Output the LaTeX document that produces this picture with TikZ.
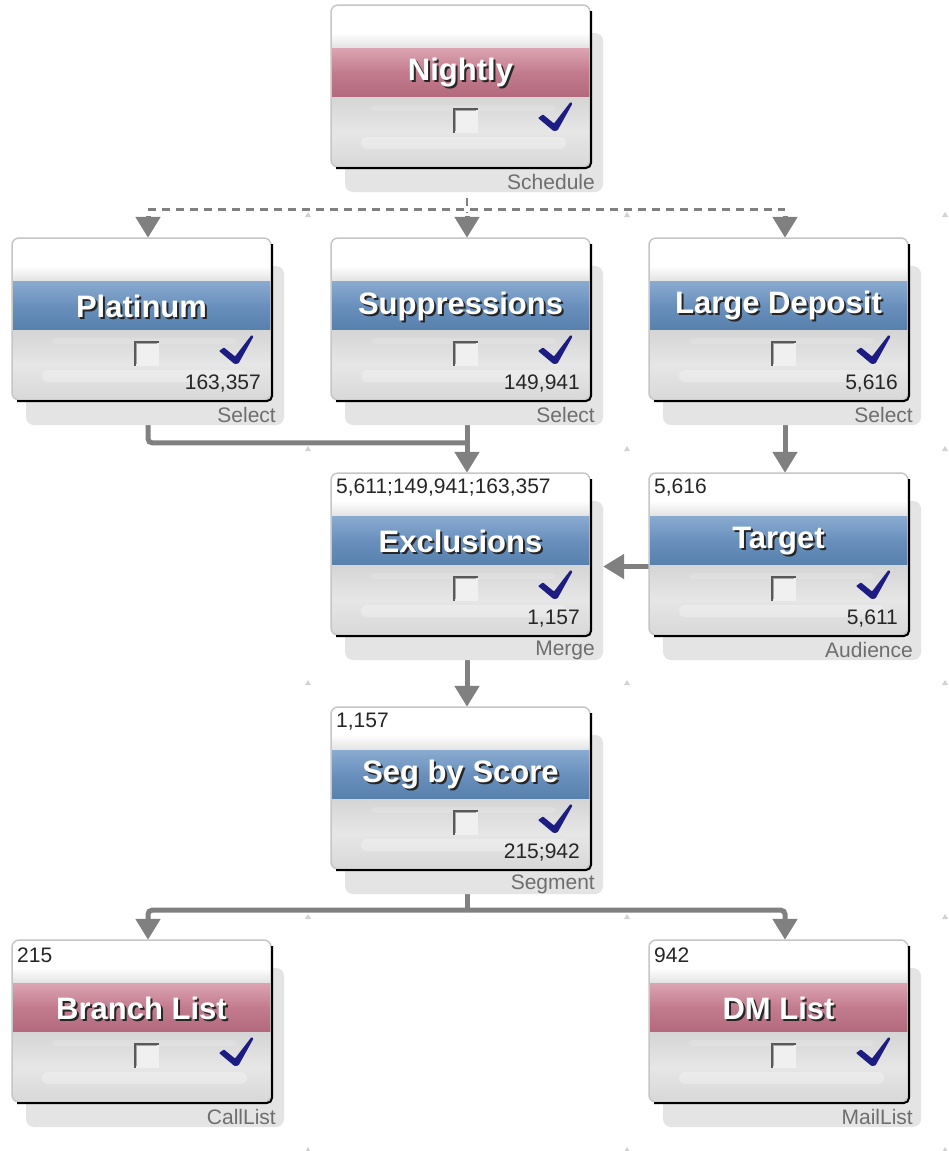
\documentclass[tikz,border=0pt]{standalone}
\usepackage{fontspec}
\setmainfont{Liberation Sans}
\usetikzlibrary{arrows.meta,calc}
\definecolor{conngray}{HTML}{808080}
\definecolor{plategray}{HTML}{E4E4E4}
\definecolor{framegray}{HTML}{C6C6C6}
\definecolor{labelgray}{HTML}{6E6E6E}
\definecolor{gridgray}{HTML}{D2D2D2}
\definecolor{topgray}{HTML}{E2E2E2}
\definecolor{lowA}{HTML}{D5D5D5}
\definecolor{lowB}{HTML}{E6E6E6}
\definecolor{lowC}{HTML}{D8D8D8}
\definecolor{blueA}{HTML}{8AABD0}
\definecolor{blueB}{HTML}{6990BD}
\definecolor{blueC}{HTML}{5880AD}
\definecolor{pinkA}{HTML}{DCA4B2}
\definecolor{pinkB}{HTML}{C27B8E}
\definecolor{pinkC}{HTML}{B3697D}
\definecolor{checknavy}{HTML}{1C1C82}
\pgfdeclarelayer{bg}
\pgfsetlayers{bg,main}
\tikzset{
  plate/.style={fill=plategray, rounded corners=8},
  cardframe/.style={draw=framegray, line width=1.5, rounded corners=7},
  conn/.style={draw=conngray, line width=5, -{Triangle[width=24pt,length=21pt]}},
  connplain/.style={draw=conngray, line width=5, rounded corners=4},
  dashconn/.style={draw=conngray, line width=2.8, dash pattern=on 8pt off 6pt},
  titletext/.style={font=\bfseries\fontsize{31}{31}\selectfont, text=white, inner sep=0},
  titleshadow/.style={font=\bfseries\fontsize{31}{31}\selectfont, text=black!85, inner sep=0},
  cnt/.style={font=\fontsize{21}{21}\selectfont, text=black!85, inner sep=0},
  kind/.style={font=\fontsize{21}{21}\selectfont, text=labelgray, inner sep=0, anchor=east},
  cardnode/.style={minimum width=272pt, minimum height=187pt, inner sep=0, draw=none},
  gridmark/.style={fill=gridgray},
}
% #1 name, #2 x, #3 y, #4 title, #5 band colour prefix, #6 top count, #7 bottom count, #8 kind
\newcommand{\flowcard}[8]{%
\begin{scope}[shift={(#2,#3)}]
  \fill[plate] (14,28) rectangle (272,187);
  \begin{scope}
    \clip[rounded corners=7] (0,0) rectangle (259,162);
    \fill[white] (0,0) rectangle (259,30);
    \shade[top color=white, bottom color=topgray] (0,28) rectangle (259,43);
    \shade[top color=#5A, bottom color=#5C, middle color=#5B] (0,43) rectangle (259,92);
    \shade[top color=lowA, bottom color=lowC, middle color=lowB] (0,92) rectangle (259,162);
    \fill[white, opacity=0.28, rounded corners=6] (30,132) rectangle (235,144);
    \fill[white, opacity=0.15, rounded corners=4] (40,100) rectangle (225,106);
  \end{scope}
  \draw[cardframe] (0,0) rectangle (259,162);
  \draw[black, line width=2, rounded corners=5] (260,6) -- (260,163) -- (5,163);
  % checkbox
  \fill[white!94!black] (121.5,102.5) rectangle (146.5,127.5);
  \draw[black!65, line width=2] (122.5,127.5) -- (122.5,103.5) -- (146.5,103.5);
  \draw[black!35, line width=1] (124.5,126) -- (124.5,105.5) -- (145,105.5);
  % check mark
  \fill[checknavy, rounded corners=0.8] (207,113) -- (212,109.5) -- (223,118.5) -- (239.5,97) -- (241.5,98.5) -- (226.5,125.5) -- (222.5,126) -- cycle;
  % texts
  \node[titleshadow] at (131.5,70) {#4};
  \node[titletext] at (129.5,68) {#4};
  \node[cnt, anchor=west] at (5,15) {#6};
  \node[cnt, anchor=east] at (249,146) {#7};
  \node[kind] at (264,177) {#8};
\end{scope}
\node[cardnode] (#1) at (#2+136,#3+93.5) {};
}
\begin{document}
\begin{tikzpicture}[x=1pt, y=-1pt]
\useasboundingbox (0,0) rectangle (948,1151);
\begin{pgfonlayer}{bg}
  \fill[white] (0,0) rectangle (948,1151);
  \foreach \gx in {308,627,945} {
    \foreach \gy in {215,449,683,917,1150} {
      \fill[gridmark] (\gx-3,\gy+2) -- (\gx,\gy-3) -- (\gx+3,\gy+2) -- cycle;
    }
  }
\end{pgfonlayer}

\flowcard{Nightly}{331}{5}{Nightly}{pink}{}{}{Schedule}
\flowcard{Platinum}{12}{238}{Platinum}{blue}{}{163,357}{Select}
\flowcard{Suppressions}{331}{238}{Suppressions}{blue}{}{149,941}{Select}
\flowcard{LargeDeposit}{649}{238}{Large Deposit}{blue}{}{5,616}{Select}
\flowcard{Exclusions}{331}{473}{Exclusions}{blue}{5,611;149,941;163,357}{1,157}{Merge}
\flowcard{Target}{649}{473}{Target}{blue}{5,616}{5,611}{Audience}
\flowcard{SegByScore}{331}{707}{Seg by Score}{blue}{1,157}{215;942}{Segment}
\flowcard{BranchList}{12}{940}{Branch List}{pink}{215}{}{CallList}
\flowcard{DMList}{649}{940}{DM List}{pink}{942}{}{MailList}

\begin{pgfonlayer}{bg}
  % schedule fan-out (dashed)
  \coordinate (bus1) at ($(Nightly.south)+(0,17)$);
  \draw[dashconn] ($(Nightly.south)+(0,6)$) -- ($(Nightly.south)+(0,21)$);
  \draw[dashconn] (Platinum.north |- bus1) -- (LargeDeposit.north |- bus1);
  \draw[conn] ($(Platinum.north)+(0,-22)$) -- (Platinum.north);
  \draw[conn] ($(Suppressions.north)+(0,-22)$) -- (Suppressions.north);
  \draw[conn] ($(LargeDeposit.north)+(0,-22)$) -- (LargeDeposit.north);
  % into Exclusions
  \coordinate (bus2) at ($(Exclusions.north)+(0,-30)$);
  \draw[connplain] (Platinum.south) |- (bus2);
  \draw[conn] (Suppressions.south) -- (Exclusions.north);
  \draw[conn] (LargeDeposit.south) -- (Target.north);
  \draw[conn] (Target.west) -- (Exclusions.east);
  \draw[conn] (Exclusions.south) -- (SegByScore.north);
  % segment split
  \coordinate (bus3) at ($(SegByScore.south)+(0,16)$);
  \draw[connplain] (SegByScore.south) -- (bus3);
  \draw[conn, rounded corners=4] (bus3) -| (BranchList.north);
  \draw[conn, rounded corners=4] (bus3) -| (DMList.north);
\end{pgfonlayer}
\end{tikzpicture}
\end{document}
